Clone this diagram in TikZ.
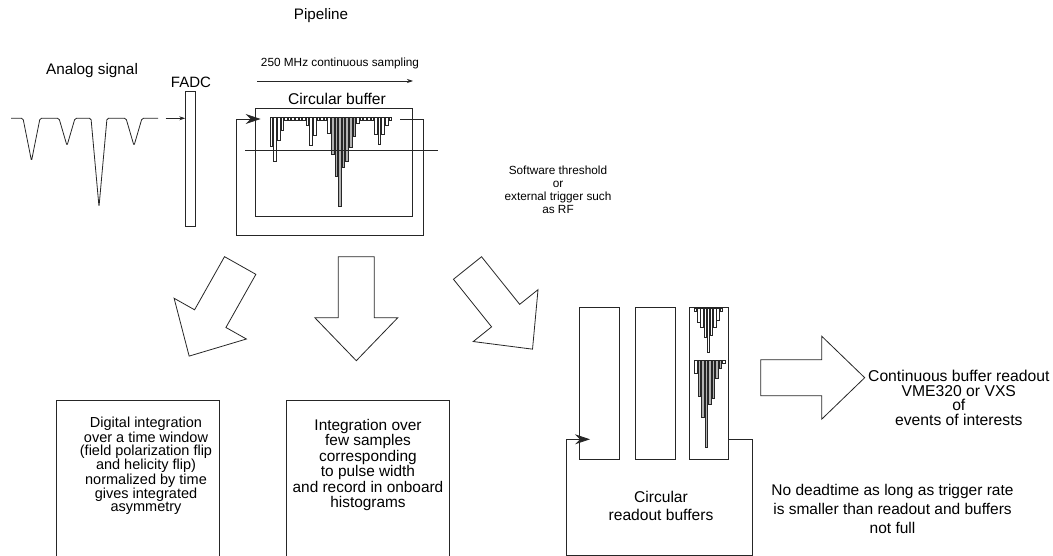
\documentclass[tikz,border=0pt]{standalone}
\usepackage{fontspec}
\setmainfont{Liberation Sans}
\usetikzlibrary{arrows.meta}

\newcommand\fsz[2]{\fontsize{#1}{#2}\selectfont}
\tikzset{
  buffer/.style={draw=black!85,line width=0.8pt,rectangle,inner sep=0pt},
  lbl/.style={align=center,inner sep=0pt},
  loop/.style={line width=0.8pt,draw=black!85,-{Stealth[length=15pt,width=10pt,inset=5pt]}},
  thin/.style={line width=0.7pt,draw=black!85,-{Stealth[length=6pt,width=4pt]}},
  bar/.style={draw=black!85,line width=0.45pt},
  frame/.style={line width=0.8pt,draw=black!85},
  blockarrow/.pic={\draw[frame,line join=miter]
      (0,-18) -- (61,-18) -- (61,-41.5) -- (104,0) -- (61,41.5) -- (61,18) -- (0,18) -- cycle;}
}

\begin{document}
\begin{tikzpicture}[x=1pt,y=-1pt]
  \useasboundingbox (0,0) rectangle (1053,556);

  % Titles
  \node[lbl,font=\fsz{15.2}{16}] (pipe) at (321,16) {Pipeline};
  \node[lbl,font=\fsz{15.3}{16}] (analog) at (92,71) {Analog signal};

  % Analog signal into the FADC
  \draw[frame,rounded corners=1.5pt] (11,118.3)
    \foreach \a/\b/\d in {23/40/161, 59/75/145.7, 91/107/206.7, 126/142/145.7}
      { -- (\a,118.3) -- ({(\a+\b)/2},\d) -- (\b,118.3) } -- (158,118.3);
  \coordinate (sigend) at (165.7,118.3);

  \node[buffer,minimum width=10pt,minimum height=135pt] (fadc) at (190.7,159.2) {};
  \node[lbl,font=\fsz{15}{16}] (fadclbl) at (191,82) {FADC};
  \draw[thin] (sigend) -- (fadc.west |- sigend);

  % Circular buffer
  \node[lbl,font=\fsz{11.8}{13}] (rate) at (340,63) {250 MHz continuous sampling};
  \coordinate (s0) at (257,81);
  \coordinate (s1) at (413,81);
  \draw[thin] (s0) -- (s1);
  \node[lbl,font=\fsz{15.6}{16}] (cbuflbl) at (337,99) {Circular buffer};
  \node[buffer,minimum width=157.7pt,minimum height=108.4pt] (cbuf) at (333.85,162.5) {};

  \coordinate (cl0) at (400,119);
  \coordinate (cl1) at (423.3,235.5);
  \coordinate (cl2) at (236.7,119);
  \coordinate (cl3) at (260.7,119);
  \draw[loop] (cl0) -| (cl1) -| (cl2) -- (cl3);

  \foreach \d/\c [count=\i from 0] in {29/white,44/white,23/white,13/white,
      3/white,3/white,3/white,3/white,3/white,3/white,
      8/white,28/white,18/white,3/white,3/white,3/white,
      16/white,37/gray!60,59/gray!60,89/gray!60,50/gray!60,44/gray!60,30/gray!60,19/gray!60,6/white,
      3/white,3/white,3/white,3/white,17/white,27/white,17/white,8/white,3/white}
    \draw[bar,fill=\c] ({270+\i*3.6},117.3) rectangle ++(2.6,\d);

  \coordinate (th0) at (245,150);
  \coordinate (th1) at (438,150);
  \draw[frame] (th0) -- (th1);

  \node[lbl,font=\fsz{11.8}{12.9}] (trig) at (558,190) {Software threshold\\or\\external trigger such\\as RF};

  % Three ways out
  \pic[rotate=240.6] (toint) at (240.2,265.5) {blockarrow};
  \pic[rotate=270] (tohist) at (356.3,256.7) {blockarrow};
  \pic[rotate=-51.3] (toread) at (467.5,268) {blockarrow};

  \draw[frame] (56,557) -- (56,400) -- (219,400) -- (219,557);
  \node[lbl,font=\fsz{14.5}{13.2}] (inttxt) at (146,466) {Digital integration\\over a time window\\(field polarization flip\\and helicity flip)\\normalized by time\\gives integrated\\asymmetry};

  \draw[frame] (286,557) -- (286,400) -- (449,400) -- (449,557);
  \node[lbl,font=\fsz{15.4}{15.5}] (histtxt) at (368,465) {Integration over\\few samples\\corresponding\\to pulse width\\and record in onboard\\histograms};

  % Readout buffers
  \node[buffer,minimum width=40pt,minimum height=152.3pt] (col1) at (599,383.2) {};
  \node[buffer,minimum width=40pt,minimum height=152.3pt] (col2) at (655,383.2) {};
  \node[buffer,minimum width=39pt,minimum height=152.3pt] (col3) at (708.5,383.2) {};

  \foreach \d [count=\i from 0] in {3,14,19,29,44,27,19,12,3}
    \draw[bar,fill=white] ({694.3+\i*3.2},308.3) rectangle ++(2.4,\d);
  \foreach \d/\c [count=\i from 0] in {13/white,36/gray!60,57/gray!60,87/gray!60,44/gray!60,
      38/gray!60,18/gray!60,8/gray!60,3/white}
    \draw[bar,fill=\c] ({694.3+\i*3.5},360.7) rectangle ++(2.6,\d);

  \coordinate (rl0) at (728.3,439.3);
  \coordinate (rl1) at (752.7,555);
  \coordinate (rl2) at (566,439.3);
  \coordinate (rl3) at (590,439.3);
  \draw[loop] (rl0) -| (rl1) -| (rl2) -- (rl3);
  \node[lbl,font=\fsz{15.6}{18.3}] (readtxt) at (661,506) {Circular\\readout buffers};

  \pic (toout) at (760.7,377.7) {blockarrow};
  \node[lbl,font=\fsz{15.7}{14.7}] (outtxt) at (958.8,398) {Continuous buffer readout\\VME320 or VXS\\of\\events of interests};
  \node[lbl,font=\fsz{15.5}{19}] (deadtxt) at (892.5,509) {No deadtime as long as trigger rate\\is smaller than readout and buffers\\not full};
\end{tikzpicture}
\end{document}
